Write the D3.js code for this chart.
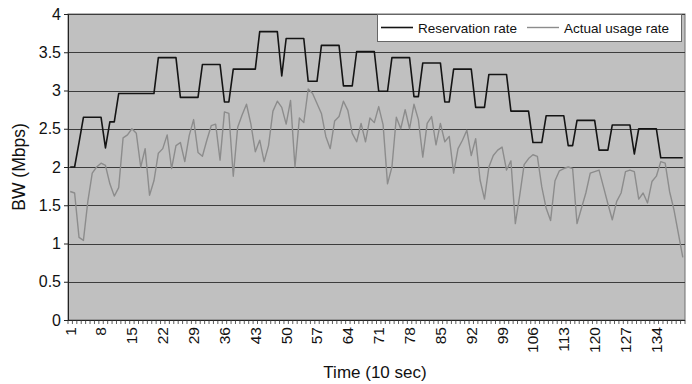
<!DOCTYPE html>
<html>
<head>
<meta charset="utf-8">
<script src="https://cdn.jsdelivr.net/npm/d3@7"></script>
<style>
  body { margin: 0; background: #fff; }
  svg { display: block; font-family: "Liberation Sans", Arial, Helvetica, sans-serif; }
</style>
</head>
<body>
<svg id="chart" width="692" height="384"></svg>
<script>
// time slots (10 sec each)
const times = d3.range(1, 141);
const xTickLabels = [1, 8, 15, 22, 29, 36, 43, 50, 57, 64, 71, 78, 85, 92, 99, 106, 113, 120, 127, 134];
const yTicks = [0, 0.5, 1, 1.5, 2, 2.5, 3, 3.5, 4];

const reservation = [
  2.00, 2.00, 2.32, 2.65, 2.65, 2.65, 2.65, 2.65, 2.25, 2.59,
  2.59, 2.96, 2.96, 2.96, 2.96, 2.96, 2.96, 2.96, 2.96, 2.96,
  3.43, 3.43, 3.43, 3.43, 3.43, 2.91, 2.91, 2.91, 2.91, 2.91,
  3.34, 3.34, 3.34, 3.34, 3.34, 2.85, 2.85, 3.28, 3.28, 3.28,
  3.28, 3.28, 3.28, 3.77, 3.77, 3.77, 3.77, 3.77, 3.19, 3.68,
  3.68, 3.68, 3.68, 3.68, 3.12, 3.12, 3.12, 3.59, 3.59, 3.59,
  3.59, 3.59, 3.06, 3.06, 3.06, 3.51, 3.51, 3.51, 3.51, 3.51,
  2.99, 2.99, 2.99, 3.43, 3.43, 3.43, 3.43, 3.43, 2.92, 2.92,
  3.36, 3.36, 3.36, 3.36, 3.36, 2.85, 2.85, 3.28, 3.28, 3.28,
  3.28, 3.28, 2.78, 2.78, 2.78, 3.21, 3.21, 3.21, 3.21, 3.21,
  2.73, 2.73, 2.73, 2.73, 2.73, 2.32, 2.32, 2.32, 2.67, 2.67,
  2.67, 2.67, 2.67, 2.28, 2.28, 2.61, 2.61, 2.61, 2.61, 2.61,
  2.22, 2.22, 2.22, 2.55, 2.55, 2.55, 2.55, 2.55, 2.17, 2.50,
  2.50, 2.50, 2.50, 2.50, 2.12, 2.12, 2.12, 2.12, 2.12, 2.12
];

const actual = [
  1.68, 1.66, 1.08, 1.04, 1.55, 1.92, 2.00, 2.05, 2.02, 1.78,
  1.62, 1.73, 2.38, 2.42, 2.50, 2.44, 2.00, 2.24, 1.63, 1.82,
  2.18, 2.24, 2.42, 1.98, 2.28, 2.32, 2.07, 2.41, 2.62, 2.19,
  2.14, 2.35, 2.54, 2.56, 2.09, 2.72, 2.70, 1.88, 2.52, 2.68,
  2.82, 2.56, 2.20, 2.35, 2.07, 2.28, 2.73, 2.86, 2.78, 2.56,
  2.87, 2.00, 2.64, 2.58, 3.02, 2.96, 2.83, 2.70, 2.40, 2.24,
  2.60, 2.66, 2.86, 2.74, 2.44, 2.33, 2.57, 2.33, 2.64, 2.58,
  2.79, 2.55, 1.78, 2.00, 2.65, 2.50, 2.75, 2.50, 2.82, 2.62,
  2.13, 2.57, 2.66, 2.29, 2.57, 2.33, 2.40, 1.92, 2.24, 2.35,
  2.48, 2.15, 2.37, 1.83, 1.58, 2.00, 2.15, 2.22, 2.26, 1.96,
  2.08, 1.26, 1.63, 2.03, 2.11, 2.16, 2.14, 1.74, 1.46, 1.30,
  1.82, 1.95, 1.98, 2.00, 1.98, 1.26, 1.46, 1.66, 1.92, 1.94,
  1.96, 1.74, 1.52, 1.31, 1.55, 1.66, 1.94, 1.96, 1.94, 1.58,
  1.66, 1.53, 1.81, 1.88, 2.07, 2.05, 1.68, 1.44, 1.13, 0.82
];

const svg = d3.select("#chart");
const plotLeft = 68, plotRight = 685, plotTop = 14, plotBottom = 320;

const x = d3.scaleBand().domain(times).range([plotLeft, plotRight]);
const cx = d => x(d) + x.bandwidth() / 2;
const y = d3.scaleLinear().domain([0, 4]).range([plotBottom, plotTop]);

// plot area
svg.append("rect")
  .attr("x", plotLeft).attr("y", plotTop)
  .attr("width", plotRight - plotLeft).attr("height", plotBottom - plotTop)
  .attr("fill", "#c0c0c0")
  .attr("stroke", "#6e6e6e");

// gridlines
svg.append("g")
  .selectAll("line")
  .data(yTicks.filter(d => d > 0))
  .enter().append("line")
  .attr("x1", plotLeft).attr("x2", plotRight)
  .attr("y1", d => Math.round(y(d)) + 0.5)
  .attr("y2", d => Math.round(y(d)) + 0.5)
  .attr("stroke", "#3c3c3c")
  .attr("stroke-width", 1);

// y axis
const yAxis = svg.append("g")
  .attr("transform", `translate(${plotLeft},0)`)
  .call(d3.axisLeft(y).tickValues(yTicks).tickSize(4).tickPadding(3).tickFormat(d => String(d)));
yAxis.select(".domain").attr("stroke", "#222");
yAxis.selectAll(".tick line").attr("stroke", "#222");
yAxis.selectAll("text").attr("font-size", 16).attr("fill", "#111");

// x axis: minor ticks at every category boundary
const xAxis = svg.append("g").attr("transform", `translate(0,${plotBottom})`);
xAxis.append("line")
  .attr("x1", plotLeft).attr("x2", plotRight).attr("y1", 0.5).attr("y2", 0.5)
  .attr("stroke", "#222");
xAxis.append("g")
  .selectAll("line")
  .data(times.concat([null]))
  .enter().append("line")
  .attr("x1", d => d === null ? plotRight : x(d))
  .attr("x2", d => d === null ? plotRight : x(d))
  .attr("y1", 0).attr("y2", 4)
  .attr("stroke", "#333")
  .attr("stroke-width", 0.8);
xAxis.append("g")
  .selectAll("text")
  .data(xTickLabels)
  .enter().append("text")
  .attr("transform", d => `translate(${cx(d)},7) rotate(-90)`)
  .attr("text-anchor", "end")
  .attr("dy", "0.35em")
  .attr("font-size", 15.5)
  .attr("fill", "#111")
  .text(d => d);

// series lines
const line = d3.line().x((d, i) => cx(times[i])).y(d => y(d));

svg.append("path")
  .datum(actual)
  .attr("d", line)
  .attr("fill", "none")
  .attr("stroke", "#8c8c8c")
  .attr("stroke-width", 1.4)
  .attr("stroke-linejoin", "round");

svg.append("path")
  .datum(reservation)
  .attr("d", line)
  .attr("fill", "none")
  .attr("stroke", "#141414")
  .attr("stroke-width", 1.6)
  .attr("stroke-linejoin", "round");

// axis titles
svg.append("text")
  .attr("x", 375).attr("y", 378)
  .attr("text-anchor", "middle")
  .attr("font-size", 17)
  .attr("fill", "#111")
  .text("Time (10 sec)");

svg.append("text")
  .attr("transform", `translate(25,${(plotTop + plotBottom) / 2}) rotate(-90)`)
  .attr("text-anchor", "middle")
  .attr("font-size", 17.5)
  .attr("fill", "#111")
  .text("BW (Mbps)");

// legend
const legend = svg.append("g");
legend.append("rect")
  .attr("x", 377.5).attr("y", 14.5).attr("width", 304).attr("height", 27)
  .attr("fill", "#fff").attr("stroke", "#666");
const legendItems = [
  {name: "Reservation rate", color: "#141414", width: 1.6, x: 381},
  {name: "Actual usage rate", color: "#8c8c8c", width: 1.4, x: 527}
];
legendItems.forEach(it => {
  legend.append("line")
    .attr("x1", it.x).attr("x2", it.x + 32)
    .attr("y1", 27.5).attr("y2", 27.5)
    .attr("stroke", it.color).attr("stroke-width", it.width);
  legend.append("text")
    .attr("x", it.x + 37).attr("y", 28)
    .attr("dy", "0.35em")
    .attr("font-size", 13.5)
    .attr("fill", "#111")
    .text(it.name);
});
</script>
</body>
</html>
